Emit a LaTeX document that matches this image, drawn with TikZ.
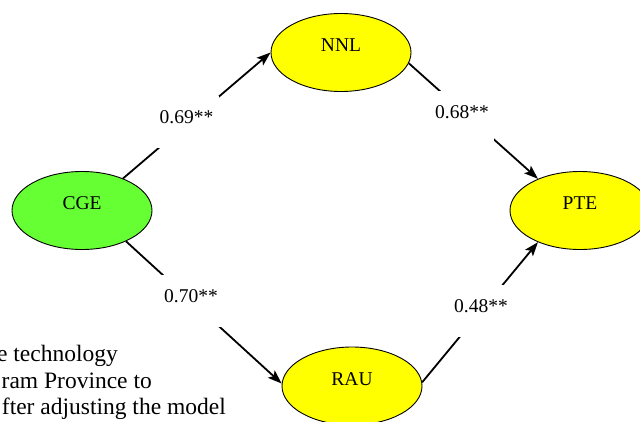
\documentclass[tikz,border=0pt]{standalone}
\usepackage{fontspec}
\setmainfont{Liberation Serif}
\usetikzlibrary{shapes.geometric,arrows.meta}
\definecolor{cgegreen}{RGB}{102,255,51}
\definecolor{varyellow}{RGB}{255,255,0}
\begin{document}
\begin{tikzpicture}[x=1pt,y=-1pt,
  latent/.style={ellipse, draw=black, line width=0.9pt, minimum width=140pt,
    minimum height=78pt, inner sep=0pt},
  nodetext/.style={font=\fontsize{19.5}{22}\selectfont, inner sep=0pt},
  effect/.style={line width=1.8pt, -{Stealth[length=14pt,width=10pt,inset=3pt]}},
  coef/.style={fill=white, inner sep=0pt, minimum width=64pt, text height=27pt,
    text depth=25pt, anchor=base, font=\fontsize{19.5}{22}\selectfont},
  captionline/.style={anchor=base east, inner sep=0pt,
    font=\fontsize{23.5}{26}\selectfont}]
  \useasboundingbox (0,0) rectangle (640,421);
  \clip (0,0) rectangle (640,421);
  \fill[white] (0,0) rectangle (640,421);

  % latent variables
  \node[latent, fill=cgegreen,
    label={[nodetext, yshift=7pt]center:CGE}] (cge) at (82,210.5) {};
  \node[latent, fill=varyellow,
    label={[nodetext, yshift=7pt]center:NNL}] (nnl) at (341,52.5) {};
  \node[latent, fill=varyellow,
    label={[nodetext, yshift=7pt]center:PTE}] (pte) at (580,210.5) {};
  \node[latent, fill=varyellow,
    label={[nodetext, yshift=7pt]center:RAU}] (rau) at (352,386) {};

  % structural paths
  \draw[effect] (cge.38) -- (nnl.west);
  \draw[effect] (nnl.-9) -- (pte.143);
  \draw[effect] (cge.-35) -- (rau.178);
  \draw[effect] (rau.3) -- (pte.217);

  % path coefficients (white boxes break the lines)
  \node[coef] (c1) at (186.5,123.2) {0.69**};
  \node[coef] (c2) at (462,118.2) {0.68**};
  \node[coef] (c3) at (191,302.2) {0.70**};
  \node[coef] (c4) at (481,312.2) {0.48**};

  % caption text
  \node[captionline] (t1) at (118,361.5) {e technology};
  \node[captionline] (t2) at (152,388) {ram Province to};
  \node[captionline] (t3) at (226,414.5) {fter adjusting the model};
\end{tikzpicture}
\end{document}
